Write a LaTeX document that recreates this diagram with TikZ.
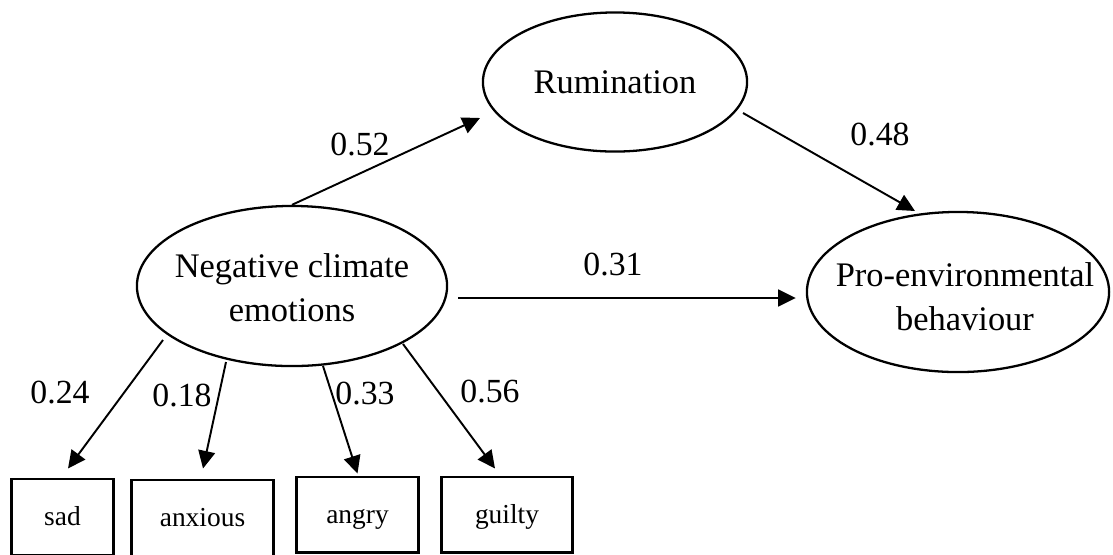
\documentclass[tikz,border=0pt]{standalone}
\usepackage{fontspec}
\setmainfont{Liberation Serif}
\usetikzlibrary{shapes.geometric,arrows.meta,calc}
\begin{document}
\begin{tikzpicture}[x=0.01cm,y=-0.01cm,
  latent/.style={draw, ellipse, line width=0.65pt, inner sep=0pt},
  ltext/.style={align=center, inner sep=0pt, font=\fontsize{9.8}{12.6}\selectfont},
  obs/.style={draw, rectangle, line width=0.85pt, inner sep=0pt,
    text height=0.72em, text depth=0.22em,
    font=\fontsize{7.8}{9}\selectfont},
  arr/.style={-{Triangle[length=5pt,width=4.8pt]}, line width=0.55pt},
  lab/.style={font=\fontsize{9.6}{11}\selectfont, inner sep=0pt}]
\useasboundingbox (0,0) rectangle (1113,554);
\clip (0,0) rectangle (1113,554);
% latent variables
\node[latent, minimum width=2.64cm, minimum height=1.39cm] (rum) at (615,82) {};
\node[ltext] (rumt) at (rum.center) {Rumination};
\node[latent, minimum width=3.10cm, minimum height=1.60cm] (nce) at (292,286) {};
\node[ltext] (ncet) at (292,288) {Negative climate\\emotions};
\node[latent, minimum width=3.02cm, minimum height=1.60cm] (peb) at (958,292) {};
\node[ltext] (pebt) at (965,297) {Pro-environmental\\behaviour};
% indicators
\node[obs, minimum width=1.01cm, minimum height=0.76cm] (sad) at (62.5,517) {sad};
\node[obs, minimum width=1.41cm, minimum height=0.76cm] (anx) at (202.5,518) {anxious};
\node[obs, minimum width=1.21cm, minimum height=0.75cm] (ang) at (357.5,514.5) {angry};
\node[obs, minimum width=1.30cm, minimum height=0.75cm] (gui) at (507,514.5) {guilty};
% structural paths
\draw[arr] (nce.north) -- ($(rum.center)+(-135,36)$);
\draw[arr] ($(rum.center)+(128,31)$) -- ($(peb.center)+(-43,-81)$);
\draw[arr] ($(nce.east)+(10,12)$) -- ($(peb.west)+(-10,6)$);
% measurement paths
\draw[arr] ($(nce.center)+(-129,54)$) -- ($(sad.north)+(5.5,-9)$);
\draw[arr] ($(nce.center)+(-66,76)$) -- ($(anx.north)+(0.5,-10)$);
\draw[arr] ($(nce.center)+(31,80)$) -- ($(ang.north)+(0,-2)$);
\draw[arr] ($(nce.center)+(111,58)$) -- ($(gui.north)+(-12,-7)$);
% labels
\node[lab] (l52) at (360,145) {0.52};
\node[lab] (l48) at (880,135) {0.48};
\node[lab] (l31) at (613,265) {0.31};
\node[lab] (l24) at (60,392) {0.24};
\node[lab] (l18) at (182,395) {0.18};
\node[lab] (l33) at (365,393) {0.33};
\node[lab] (l56) at (490,391) {0.56};
\end{tikzpicture}
\end{document}
